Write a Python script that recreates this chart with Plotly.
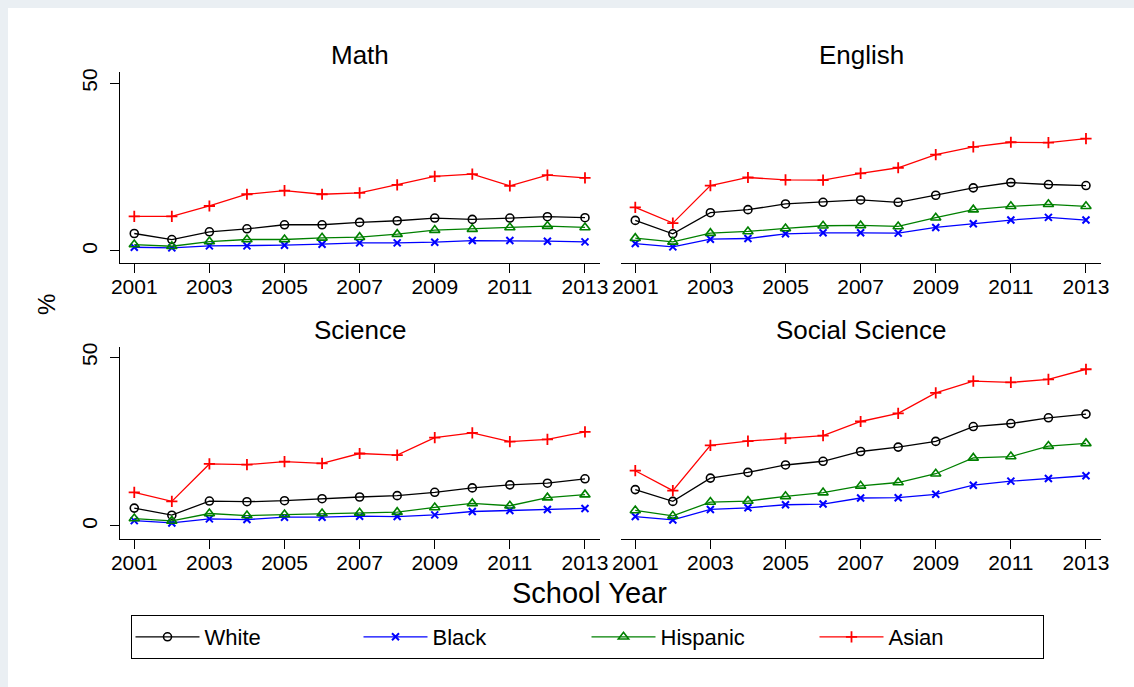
import plotly.graph_objects as go

years = list(range(2001, 2014))
subjects = ["Math", "English", "Science", "Social Science"]
groups = ["White", "Black", "Hispanic", "Asian"]

math_white = [5.2, 3.4, 5.7, 6.6, 7.8, 7.8, 8.5, 9.0, 9.8, 9.4, 9.8, 10.2, 9.9]
math_black = [1.1, 0.9, 1.5, 1.5, 1.7, 2.0, 2.4, 2.4, 2.6, 3.1, 3.1, 2.9, 2.7]
math_hispanic = [1.9, 1.4, 2.8, 3.4, 3.4, 3.9, 4.1, 5.0, 6.2, 6.5, 7.0, 7.4, 7.0]
math_asian = [10.3, 10.3, 13.4, 16.9, 18.0, 16.9, 17.3, 19.7, 22.2, 22.9, 19.4, 22.6, 21.8]

english_white = [9.1, 5.1, 11.4, 12.3, 14.0, 14.5, 15.2, 14.5, 16.6, 18.8, 20.4, 19.8, 19.5]
english_black = [2.2, 1.2, 3.5, 3.7, 5.1, 5.4, 5.4, 5.3, 7.0, 8.1, 9.2, 10.0, 9.2]
english_hispanic = [3.8, 2.7, 5.3, 5.8, 6.7, 7.5, 7.6, 7.3, 9.9, 12.3, 13.3, 13.9, 13.3]
english_asian = [13.0, 8.3, 19.5, 21.9, 21.2, 21.1, 23.1, 24.8, 28.7, 31.0, 32.4, 32.3, 33.5]

science_white = [5.3, 3.2, 7.4, 7.2, 7.5, 8.1, 8.6, 9.0, 10.0, 11.3, 12.2, 12.7, 14.0]
science_black = [1.6, 0.9, 2.1, 1.9, 2.6, 2.6, 2.9, 2.8, 3.3, 4.3, 4.6, 4.9, 5.2]
science_hispanic = [2.2, 1.5, 3.7, 3.1, 3.4, 3.7, 3.9, 4.1, 5.5, 6.7, 6.0, 8.4, 9.3]
science_asian = [10.0, 7.3, 18.4, 18.2, 19.1, 18.6, 21.5, 21.0, 26.2, 27.6, 25.0, 25.7, 27.9]

social_white = [10.8, 7.3, 14.2, 15.9, 18.1, 19.2, 22.1, 23.4, 25.1, 29.5, 30.4, 32.1, 33.2]
social_black = [2.8, 1.8, 4.9, 5.4, 6.3, 6.5, 8.3, 8.4, 9.4, 12.1, 13.3, 14.1, 14.9]
social_hispanic = [4.6, 3.0, 7.1, 7.4, 8.8, 9.9, 11.9, 12.9, 15.5, 20.2, 20.6, 23.7, 24.5]
social_asian = [16.4, 10.5, 23.9, 25.2, 26.0, 26.8, 31.0, 33.4, 39.5, 43.0, 42.6, 43.5, 46.5]

data = {
    "Math": [math_white, math_black, math_hispanic, math_asian],
    "English": [english_white, english_black, english_hispanic, english_asian],
    "Science": [science_white, science_black, science_hispanic, science_asian],
    "Social Science": [social_white, social_black, social_hispanic, social_asian],
}

xticks = [2001, 2003, 2005, 2007, 2009, 2011, 2013]
yticks = [0, 50]

colors = ["#000000", "#0000ff", "#008000", "#ff0000"]
symbols = ["circle-open", "x-thin-open", "triangle-up-open", "cross-thin-open"]
msizes = [8, 7, 9, 8]
mlw = [1.6, 2.0, 1.6, 1.8]

W, H = 1134, 687
FONT = "Liberation Sans, Arial, sans-serif"

def fx(px):
    return px / W

def fy(py):
    return 1 - py / H

# panel pixel boxes: (x0, x1, ytop, ybottom)
panels = {
    "Math": (120, 600, 72, 263),
    "English": (621, 1101, 72, 263),
    "Science": (120, 600, 347, 539),
    "Social Science": (621, 1101, 347, 539),
}

fig = go.Figure()
layout = {}
annotations = []

for i, subj in enumerate(subjects):
    n = i + 1
    xa = "x" if n == 1 else f"x{n}"
    ya = "y" if n == 1 else f"y{n}"
    x0, x1, yt, yb = panels[subj]
    left = subj in ("Math", "Science")
    for g, name in enumerate(groups):
        fig.add_trace(go.Scatter(
            x=years, y=data[subj][g], mode="lines+markers", name=name,
            legendgroup=name, showlegend=(i == 0),
            line=dict(color=colors[g], width=1.3),
            marker=dict(symbol=symbols[g], size=msizes[g], color=colors[g],
                        line=dict(color=colors[g], width=mlw[g])),
            xaxis=xa, yaxis=ya,
        ))
    if subj in ("Math", "English"):
        yr = [-3.6, 53.35]
    else:
        yr = [-3.86, 53.1]
    layout["xaxis" if n == 1 else f"xaxis{n}"] = dict(
        domain=[fx(x0), fx(x1)], anchor=ya, range=[2000.62, 2013.4],
        tickmode="array", tickvals=xticks, ticktext=[str(t) for t in xticks],
        showline=True, linecolor="#000000", linewidth=1,
        ticks="outside", ticklen=9, tickcolor="#000000", tickwidth=1,
        ticklabelstandoff=-4,
        showgrid=False, zeroline=False, automargin=False,
        tickfont=dict(family=FONT, size=21, color="#000000"),
    )
    layout["yaxis" if n == 1 else f"yaxis{n}"] = dict(
        domain=[fy(yb), fy(yt)], anchor=xa, range=yr,
        tickmode="array", tickvals=yticks, ticktext=[str(t) for t in yticks],
        showline=left, linecolor="#000000", linewidth=1,
        ticks="outside" if left else "", ticklen=9, tickcolor="#000000",
        showticklabels=left, tickangle=-90, ticklabelstandoff=5,
        showgrid=False, zeroline=False, automargin=False,
        tickfont=dict(family=FONT, size=21, color="#000000"),
    )
    annotations.append(dict(
        text=subj, x=fx((x0 + x1) / 2), y=fy(yt - 17), xref="paper", yref="paper",
        xanchor="center", yanchor="middle", showarrow=False,
        font=dict(family=FONT, size=26, color="#000000"),
    ))

annotations.append(dict(
    text="School Year", x=fx(589), y=fy(593), xref="paper", yref="paper",
    xanchor="center", yanchor="middle", showarrow=False,
    font=dict(family=FONT, size=29, color="#000000"),
))
annotations.append(dict(
    text="%", x=fx(46), y=fy(305), xref="paper", yref="paper",
    xanchor="center", yanchor="middle", showarrow=False, textangle=-90,
    font=dict(family=FONT, size=24, color="#000000"),
))

shapes = [dict(
    type="rect", xref="paper", yref="paper", x0=fx(8), x1=1.0, y0=0.0, y1=fy(8),
    fillcolor="#ffffff", line=dict(width=0), layer="below",
)]

fig.update_layout(
    **layout,
    template="none",
    width=W, height=H,
    margin=dict(l=0, r=0, t=0, b=0, pad=0),
    paper_bgcolor="#eaeff3", plot_bgcolor="rgba(0,0,0,0)",
    annotations=annotations, shapes=shapes,
    showlegend=True,
    legend=dict(
        orientation="h", x=fx(587), y=fy(615), xanchor="center", yanchor="top",
        bordercolor="#000000", borderwidth=1, bgcolor="#ffffff",
        font=dict(family=FONT, size=22, color="#000000"),
        entrywidth=149, itemwidth=64, tracegroupgap=0,
    ),
)

fig.write_html("out.html")
